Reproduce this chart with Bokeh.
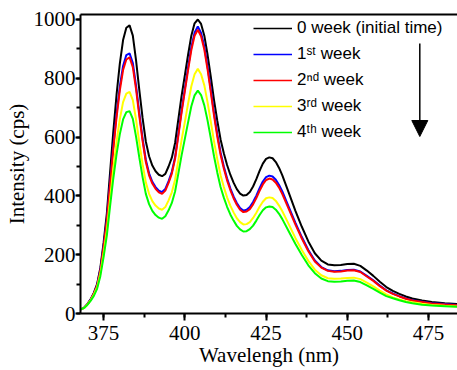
from bokeh.plotting import figure
from bokeh.models import (Range1d, LinearAxis, SingleIntervalTicker, Legend,
                          LegendItem, Arrow, NormalHead)
from bokeh.embed import file_html
from bokeh.resources import INLINE

wavelength = [368, 369, 370, 371, 372, 373, 374, 375, 376, 377, 378, 379, 380,
              381, 382, 383, 384, 385, 386, 387, 388, 389, 390, 391, 392, 393,
              394, 395, 396, 397, 398, 399, 400, 401, 402, 403, 404, 405, 406,
              407, 408, 409, 410, 411, 412, 413, 414, 415, 416, 417, 418, 419,
              420, 421, 422, 423, 424, 425, 426, 427, 428, 429, 430, 432, 434,
              436, 438, 440, 442, 444, 446, 448, 450, 452, 454, 456, 458, 460,
              462, 464, 466, 468, 470, 473, 476, 480, 485]

week0 = [14, 20, 32, 48, 70, 100, 155, 240, 340, 480, 620, 745, 850,
         930, 972, 980, 945, 860, 760, 665, 585, 535, 503, 484, 472, 467,
         475, 500, 530, 580, 660, 740, 810, 880, 945, 987, 1000, 985, 945,
         880, 805, 725, 655, 592, 545, 505, 472, 445, 423, 408, 401, 403,
         413, 432, 457, 485, 510, 526, 531, 528, 515, 495, 470, 410, 350,
         295, 245, 205, 180, 167, 164, 165, 168, 169, 162, 146, 128, 108,
         90, 77, 67, 58, 51, 44, 39, 35, 31]

week1 = [14, 19, 31, 47, 68, 96, 148, 228, 320, 446, 570, 680, 772,
         842, 879, 885, 852, 774, 682, 596, 523, 477, 448, 430, 418, 413,
         424, 450, 482, 532, 611, 691, 764, 837, 906, 955, 976, 954, 908,
         840, 762, 681, 610, 548, 500, 460, 426, 398, 376, 359, 350, 353,
         362, 379, 401, 426, 449, 464, 469, 466, 455, 437, 415, 362, 309,
         260, 216, 180, 158, 147, 144, 145, 148, 149, 143, 128, 113, 95,
         79, 68, 59, 51, 45, 40, 35, 32, 28]

week2 = [14, 19, 31, 46, 67, 94, 145, 224, 314, 438, 560, 668, 759,
         828, 864, 871, 838, 762, 671, 587, 515, 470, 442, 424, 412, 407,
         418, 444, 476, 526, 604, 683, 756, 828, 896, 945, 965, 943, 898,
         830, 752, 672, 601, 540, 493, 453, 420, 392, 370, 353, 345, 347,
         355, 371, 393, 417, 439, 454, 459, 456, 445, 428, 406, 355, 303,
         255, 212, 177, 156, 145, 142, 143, 146, 147, 141, 126, 111, 93,
         78, 67, 58, 50, 44, 39, 34, 31, 27]

week3 = [14, 19, 30, 45, 64, 89, 135, 204, 282, 389, 493, 585, 661,
         719, 748, 754, 726, 659, 581, 508, 446, 407, 382, 367, 357, 353,
         362, 385, 412, 455, 521, 590, 651, 714, 773, 814, 832, 814, 776,
         718, 652, 584, 524, 470, 430, 395, 367, 344, 324, 311, 303, 304,
         311, 325, 343, 363, 380, 392, 395, 393, 383, 367, 348, 303, 257,
         216, 179, 149, 130, 120, 118, 119, 121, 122, 117, 105, 92, 78,
         65, 55, 48, 42, 38, 33, 29, 26, 23]

week4 = [14, 19, 29, 43, 60, 84, 127, 192, 265, 365, 460, 542, 610,
         660, 685, 688, 662, 601, 530, 464, 407, 372, 349, 335, 326, 322,
         331, 351, 376, 415, 476, 538, 594, 650, 705, 742, 758, 743, 708,
         656, 596, 534, 479, 430, 394, 363, 337, 316, 298, 286, 279, 280,
         287, 299, 316, 335, 351, 361, 364, 362, 353, 339, 321, 279, 237,
         199, 164, 137, 119, 110, 108, 109, 111, 112, 107, 96, 84, 71,
         59, 52, 45, 39, 35, 30, 27, 25, 22]

series_names = ["0 week (initial time)", "1\u02e2\u1d57 week", "2\u207f\u1d48 week",
                "3\u02b3\u1d48 week", "4\u1d57\u02b0 week"]
series_values = [week0, week1, week2, week3, week4]
series_colors = ["#000000", "#0000ff", "#ff0000", "#ffff00", "#00ff00"]

x_ticks_interval = 25
y_ticks_interval = 200
x_title = "Wavelengh (nm)"
y_title = "Intensity (cps)"

SERIF = "Liberation Serif"
SANS = "Liberation Sans"

X0, X1 = 367.9, 483.9
Y0, Y1 = 0, 1017

p = figure(width=457, height=370, output_backend="svg", toolbar_location=None,
           x_range=Range1d(X0, X1), y_range=Range1d(Y0, Y1),
           min_border_left=80, min_border_right=0, min_border_top=14,
           min_border_bottom=57, x_axis_label=x_title, y_axis_label=y_title)
p.outline_line_color = None
p.grid.visible = False
p.background_fill_color = "white"
p.border_fill_color = "white"

p.xaxis.ticker = SingleIntervalTicker(interval=x_ticks_interval, num_minor_ticks=2)
p.yaxis.ticker = SingleIntervalTicker(interval=y_ticks_interval, num_minor_ticks=2)

for ax in (p.xaxis[0], p.yaxis[0]):
    ax.axis_line_width = 2
    ax.axis_line_color = "black"
    ax.major_tick_line_width = 2
    ax.minor_tick_line_width = 2
    ax.major_tick_in = 0
    ax.minor_tick_in = 0
    ax.minor_tick_out = 4
    ax.major_label_text_font = SERIF
    ax.major_label_text_font_size = "21px"
    ax.major_label_text_color = "black"
    ax.axis_label_text_font = SERIF
    ax.axis_label_text_font_size = "21px"
    ax.axis_label_text_font_style = "normal"
    ax.axis_label_text_color = "black"
p.xaxis.major_tick_out = 7
p.yaxis.major_tick_out = 5
p.yaxis.major_label_standoff = 0
p.xaxis.major_label_standoff = 5
p.yaxis.axis_label_standoff = 2
p.xaxis.axis_label_standoff = 0

top_axis = LinearAxis(axis_line_width=2, axis_line_color="black",
                      major_tick_line_color=None, minor_tick_line_color=None,
                      major_label_text_font_size="0px", major_label_text_alpha=0)
p.add_layout(top_axis, "above")

items = []
for name, vals, col in zip(series_names, series_values, series_colors):
    p.line(wavelength, vals, line_color=col, line_width=2)
    key = p.line(x=wavelength[:1], y=vals[:1], line_color=col, line_width=1.3)
    items.append(LegendItem(label=name, renderers=[key]))

legend = Legend(items=items, location=(173, 171), border_line_color=None,
                background_fill_alpha=0, padding=0, margin=0, spacing=6,
                glyph_width=39, glyph_height=20, label_height=20,
                label_standoff=5, label_text_font=SANS,
                label_text_font_size="17px", label_text_color="black")
p.add_layout(legend)

arrow_x = 472.3
arrow_top = 918
arrow_tip = 602
p.add_layout(Arrow(x_start=arrow_x, y_start=arrow_top, x_end=arrow_x, y_end=arrow_tip,
                   line_width=1.5, line_color="black",
                   end=NormalHead(size=16, fill_color="black", line_color="black")))

open("out.html", "w").write(file_html(p, INLINE))
